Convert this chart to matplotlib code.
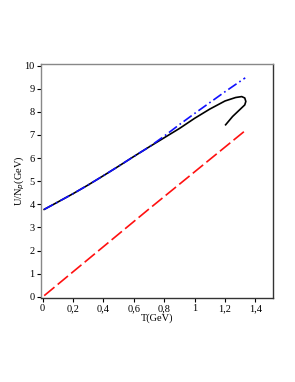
import matplotlib
matplotlib.use("Agg")
import matplotlib.pyplot as plt

# data
red_T = [0.01, 0.70, 1.326]
red_U = [0.05, 3.80, 7.15]

blue_T = [0.01, 0.1, 0.2, 0.3, 0.4, 0.5, 0.6, 0.7, 0.8, 0.9, 1.0, 1.1, 1.2, 1.333]
blue_U = [3.78, 4.10, 4.46, 4.84, 5.24, 5.65, 6.07, 6.48, 6.95, 7.45, 7.93, 8.40, 8.87, 9.47]

black_T = [0.01, 0.1, 0.2, 0.3, 0.4, 0.5, 0.6, 0.7, 0.8, 0.9, 1.0, 1.1, 1.2, 1.27, 1.31, 1.33, 1.337, 1.33, 1.29, 1.25, 1.204]
black_U = [3.78, 4.10, 4.46, 4.84, 5.24, 5.65, 6.07, 6.48, 6.88, 7.28, 7.72, 8.12, 8.47, 8.62, 8.66, 8.60, 8.45, 8.30, 8.05, 7.80, 7.44]

xticks = [0, 0.2, 0.4, 0.6, 0.8, 1.0, 1.2, 1.4]
xtick_labels = ["0", "0,2", "0,4", "0,6", "0,8", "1", "1,2", "1,4"]
yticks = [0, 1, 2, 3, 4, 5, 6, 7, 8, 9, 10]
ytick_labels = [str(v) for v in yticks]

plt.rcParams['font.family'] = ['Liberation Serif', 'DejaVu Serif']

fig = plt.figure(figsize=(2.95, 3.82), dpi=100)
ax = fig.add_axes([0.139, 0.22, 0.786, 0.6125])

ax.plot(black_T, black_U, color='black', lw=1.2, zorder=2)
ax.plot(blue_T, blue_U, color='#1010ff', lw=1.2, dashes=(6, 2, 1, 2), zorder=3)
ax.plot(red_T, red_U, color='#ff1010', lw=1.2, dashes=(8, 2.5), zorder=3)

ax.set_xlim(-0.011, 1.515)
ax.set_ylim(-0.05, 10.07)
ax.set_xticks(xticks)
ax.set_xticklabels(xtick_labels)
ax.set_yticks(yticks)
ax.set_yticklabels(ytick_labels)
ax.tick_params(axis='both', direction='out', length=3, width=0.8, labelsize=7.5, pad=1.5,
               top=False, right=False)

for side in ['left', 'top']:
    ax.spines[side].set_color('#888888')
for side in ['right', 'bottom']:
    ax.spines[side].set_color('#333333')
for s in ax.spines.values():
    s.set_linewidth(1.0)

ax.set_xlabel("T(GeV)", fontsize=7.5, labelpad=0)
ax.set_ylabel("U/N$_p$(GeV)", fontsize=7.5, labelpad=-2)

fig.savefig("out.png", dpi=100)
